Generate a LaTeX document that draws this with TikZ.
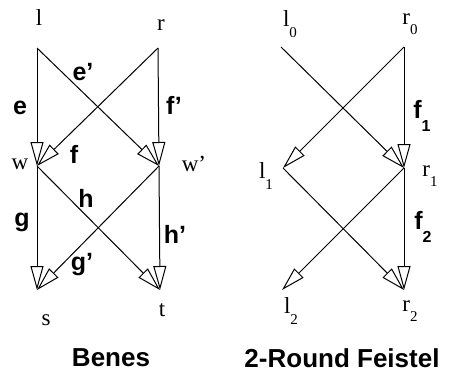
\documentclass[tikz,border=0pt]{standalone}
\usepackage{fontspec}
\setmainfont{Liberation Serif}
\setsansfont{Liberation Sans}
\usetikzlibrary{arrows.meta,positioning}

\tikzset{
  wire/.style={line width=1pt, -{Triangle[length=24pt, width=13pt, fill=white, line width=1pt]}},
  vname/.style={font=\fontsize{23}{25}\selectfont, inner sep=0pt},
  elabel/.style={font=\sffamily\bfseries\fontsize{25}{28}\selectfont, inner sep=0pt},
  title/.style={font=\sffamily\bfseries\fontsize{26}{30}\selectfont, inner sep=0pt}
}

\begin{document}
\begin{tikzpicture}[x=1pt, y=-1pt]
  \useasboundingbox (0,0) rectangle (459,381);

  % Benes
  \coordinate (l) at (37,48);
  \coordinate (r) at (158,48);
  \coordinate (w) at (37,166);
  \coordinate (w') at (159,166);
  \coordinate (s) at (37,290);
  \coordinate (t) at (160,290);

  \node[vname] (lname) at (39,18) {l};
  \node[vname] (rname) at (161,25) {r};
  \node[vname] (wname) at (20,164) {w};
  \node[vname] (w'name) at (194,164) {w'};
  \node[vname] (sname) at (46,320) {s};
  \node[vname] (tname) at (162,310) {t};

  \draw[wire] (l) -- (w);
  \draw[wire] (l) -- (w');
  \draw[wire] (r) -- (w);
  \draw[wire] (r) -- (w');
  \draw[wire] (w) -- (s);
  \draw[wire] (w) -- (t);
  \draw[wire] (w') -- (s);
  \draw[wire] (w') -- (t);

  \node[elabel] (e) at (20,108) {e};
  \node[elabel] (e') at (83,72) {e'};
  \node[elabel] (f') at (174,105) {f'};
  \node[elabel] (f) at (74,154) {f};
  \node[elabel] (g) at (22,222) {g};
  \node[elabel] (h) at (86,198) {h};
  \node[elabel] (h') at (175,234) {h'};
  \node[elabel] (g') at (82,265) {g'};

  \node[title] (benes) at (111,358) {Benes};

  % 2-round Feistel
  \coordinate (l0) at (281,47);
  \coordinate (r0) at (404,47);
  \coordinate (l1) at (283,168);
  \coordinate (r1) at (404,168);
  \coordinate (l2) at (282,290);
  \coordinate (r2) at (404,290);

  \node[vname] (l0name) at (290,24) {l\raisebox{-1.1ex}{\fontsize{15}{15}\selectfont 0}};
  \node[vname] (r0name) at (410,24) {r\raisebox{-0.9ex}{\fontsize{15}{15}\selectfont 0}};
  \node[vname] (l1name) at (266,176) {l\raisebox{-1.1ex}{\fontsize{15}{15}\selectfont 1}};
  \node[vname] (r1name) at (430,176) {r\raisebox{-0.9ex}{\fontsize{15}{15}\selectfont 1}};
  \node[vname] (l2name) at (291,311) {l\raisebox{-1.1ex}{\fontsize{15}{15}\selectfont 2}};
  \node[vname] (r2name) at (410,311) {r\raisebox{-0.9ex}{\fontsize{15}{15}\selectfont 2}};

  \draw[wire] (l0) -- (r1);
  \draw[wire] (r0) -- (l1);
  \draw[wire] (r0) -- (r1);
  \draw[wire] (l1) -- (r2);
  \draw[wire] (r1) -- (l2);
  \draw[wire] (r1) -- (r2);

  \node[elabel] (f1) at (422,116) {f\raisebox{-1ex}{\fontsize{16}{16}\selectfont 1}};
  \node[elabel] (f2) at (423,227) {f\raisebox{-1ex}{\fontsize{16}{16}\selectfont 2}};

  \node[title] (feistel) at (342,358) {2-Round Feistel};
\end{tikzpicture}
\end{document}
